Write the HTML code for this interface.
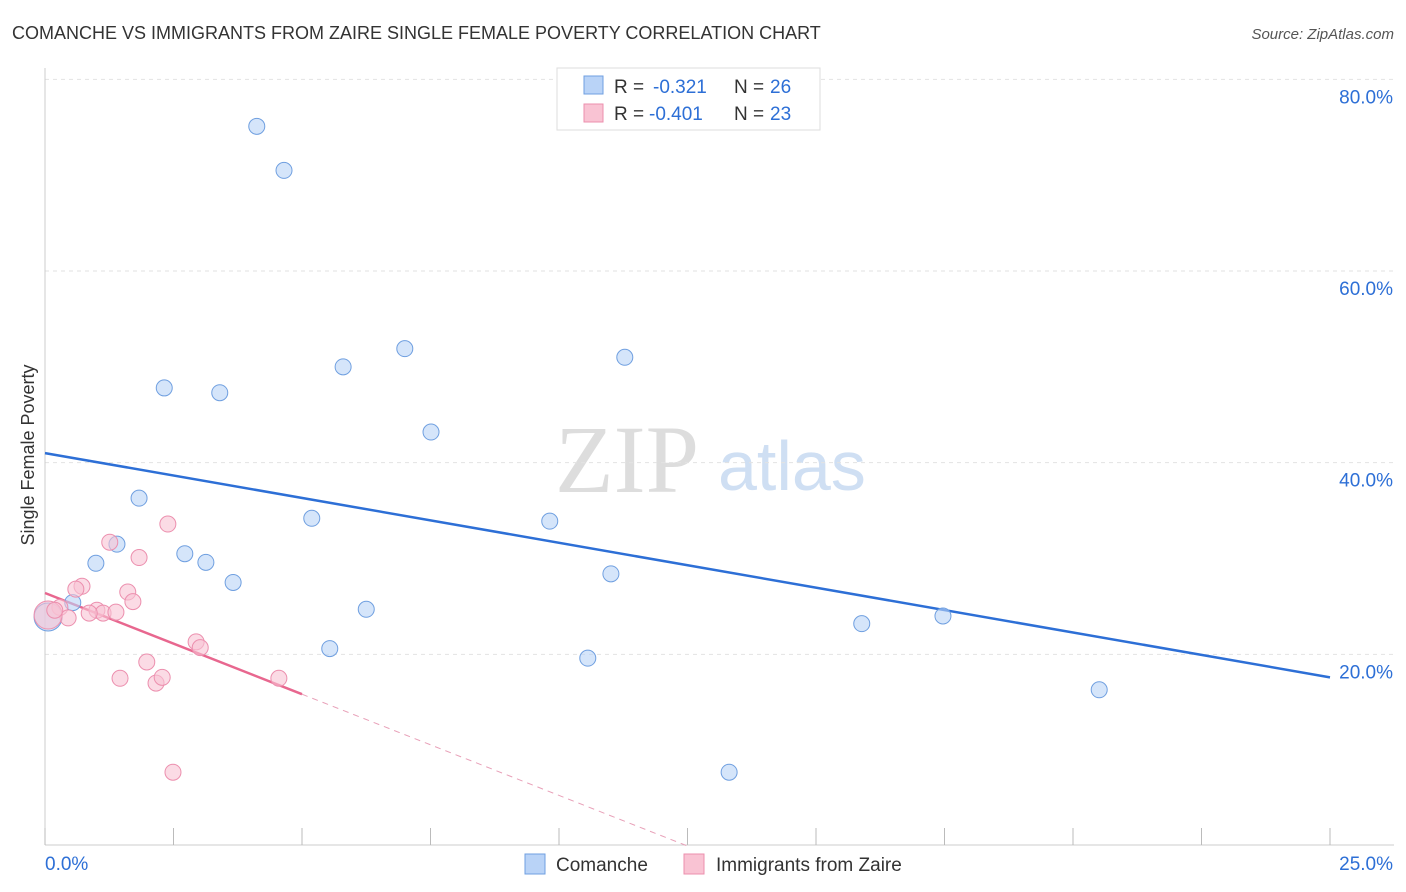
<!DOCTYPE html>
<html><head><meta charset="utf-8"><style>
body{margin:0;background:#fff;font-family:"Liberation Sans",sans-serif}
svg{display:block}
</style></head><body>
<svg width="1406" height="892" id="chart">
<text x="12" y="39" font-size="18" fill="#333">COMANCHE VS IMMIGRANTS FROM ZAIRE SINGLE FEMALE POVERTY CORRELATION CHART</text>
<text x="1394" y="39" font-size="15" fill="#555" font-style="italic" text-anchor="end">Source: ZipAtlas.com</text>
<text x="34" y="455" font-size="18" fill="#333" text-anchor="middle" transform="rotate(-90 34 455)">Single Female Poverty</text>
<text x="555" y="492" font-size="96" fill="#ddd" font-family="Liberation Serif,serif">ZIP</text>
<text x="718" y="490" font-size="70" fill="#cfdff3">atlas</text>
<g id="grid"></g><g id="axes"></g><g id="lines"></g><g id="pts"></g>
<g>
<rect x="557" y="68" width="263" height="62" fill="#fff" stroke="#ddd"/>
<rect x="584" y="76" width="19" height="18" fill="#b9d3f7" stroke="#6f9fe0"/>
<rect x="584" y="104" width="19" height="18" fill="#f9c3d3" stroke="#ec8fae"/>
<text x="614" y="93" font-size="19" fill="#333">R =</text>
<text x="653" y="93" font-size="19" fill="#2d6fd6">-0.321</text>
<text x="734" y="93" font-size="19" fill="#333">N =</text>
<text x="770" y="93" font-size="19" fill="#2d6fd6">26</text>
<text x="614" y="120" font-size="19" fill="#333">R =</text>
<text x="649" y="120" font-size="19" fill="#2d6fd6">-0.401</text>
<text x="734" y="120" font-size="19" fill="#333">N =</text>
<text x="770" y="120" font-size="19" fill="#2d6fd6">23</text>
</g>
<g>
<rect x="525" y="854" width="20" height="20" fill="#b9d3f7" stroke="#6f9fe0"/>
<text x="556" y="871" font-size="19" fill="#333">Comanche</text>
<rect x="684" y="854" width="20" height="20" fill="#f9c3d3" stroke="#ec8fae"/>
<text x="716" y="871" font-size="19" fill="#333">Immigrants from Zaire</text>
</g>
</svg>
<script>
const blueX=[4.12,4.65,2.32,3.40,5.80,7.00,11.28,7.51,1.83,5.19,9.82,1.40,0.99,2.72,3.13,3.66,11.01,0.54,6.25,5.54,10.56,15.89,17.47,20.51,13.31,0.06];
const blueY=[75.1,70.5,47.8,47.3,50.0,51.9,51.0,43.2,36.3,34.2,33.9,31.5,29.5,30.5,29.6,27.5,28.4,25.4,24.7,20.6,19.6,23.2,24.0,16.3,7.7,23.9];
const pinkX=[1.26,2.39,1.83,0.72,0.60,1.61,1.71,0.29,1.01,1.13,1.38,0.86,0.45,2.94,3.02,1.98,1.46,2.16,2.28,4.55,2.49,0.06,0.19];
const pinkY=[31.7,33.6,30.1,27.1,26.8,26.5,25.5,24.9,24.6,24.3,24.4,24.3,23.8,21.3,20.7,19.2,17.5,17.0,17.6,17.5,7.7,24.1,24.6];
const yTicks=[20,40,60,80];
const xTickLabels=["0.0%","25.0%"];
const blueFit=[41.0,17.6];
const pinkFit=[26.4,0];
const NS="http://www.w3.org/2000/svg";
const sx=v=>45+v*51.4, sy=v=>846-v*9.583;
function mk(p,t,a){const e=document.createElementNS(NS,t);for(const k in a)e.setAttribute(k,a[k]);document.getElementById(p).appendChild(e);return e;}
yTicks.forEach(t=>{
 const l=mk('grid','line',{x1:45,x2:1394,y1:sy(t),y2:sy(t),stroke:'#e2e2e2','stroke-dasharray':'4,4'});
 
 
 const tx=mk('grid','text',{x:1393,y:sy(t)+24,'font-size':19,fill:'#2d6fd6','text-anchor':'end'});tx.textContent=t.toFixed(1)+'%';
 
 
});
const ax=mk('axes','line',{x1:45,x2:1394,y1:845,y2:845,stroke:'#ccc'});


const ay=mk('axes','line',{x1:45,x2:45,y1:68,y2:845,stroke:'#ccc'});


for(let i=0;i<=10;i++){const t=mk('axes','line',{x1:sx(i*2.5),x2:sx(i*2.5),y1:828,y2:845,stroke:'#bbb'});
 
 }
xTickLabels.forEach((s,i)=>{const t=mk('axes','text',{x:i?1393:45,y:870,'font-size':19,fill:'#2d6fd6','text-anchor':i?'end':'start'});t.textContent=s;
 
 });
const bl=mk('lines','line',{x1:sx(0),y1:sy(blueFit[0]),x2:sx(25),y2:sy(blueFit[1]),stroke:'#2d6fd6','stroke-width':2.5});


const pm=(pinkFit[0]-pinkFit[1])/12.5;
const pl=mk('lines','line',{x1:sx(0),y1:sy(pinkFit[0]),x2:sx(5),y2:sy(pinkFit[0]-pm*5),stroke:'#e8678f','stroke-width':2.5});


const pd=mk('lines','line',{x1:sx(5),y1:sy(pinkFit[0]-pm*5),x2:sx(12.5),y2:sy(pinkFit[1]),stroke:'#e8a0b8','stroke-width':1,'stroke-dasharray':'6,5'});


function pts(X,Y,f,s,n){X.forEach((x,i)=>{const big=i===X.length-(n==='zaire'?2:1)&&x<0.1;
 const c=mk('pts','circle',{cx:sx(x),cy:sy(Y[i]),r:big?14:8,fill:f,'fill-opacity':0.6,stroke:s,'stroke-width':1});
 
 });}
pts(blueX,blueY,'#b9d3f7','#6f9fe0','comanche');
pts(pinkX,pinkY,'#f9c3d3','#ec8fae','zaire');
</script>
</body></html>
